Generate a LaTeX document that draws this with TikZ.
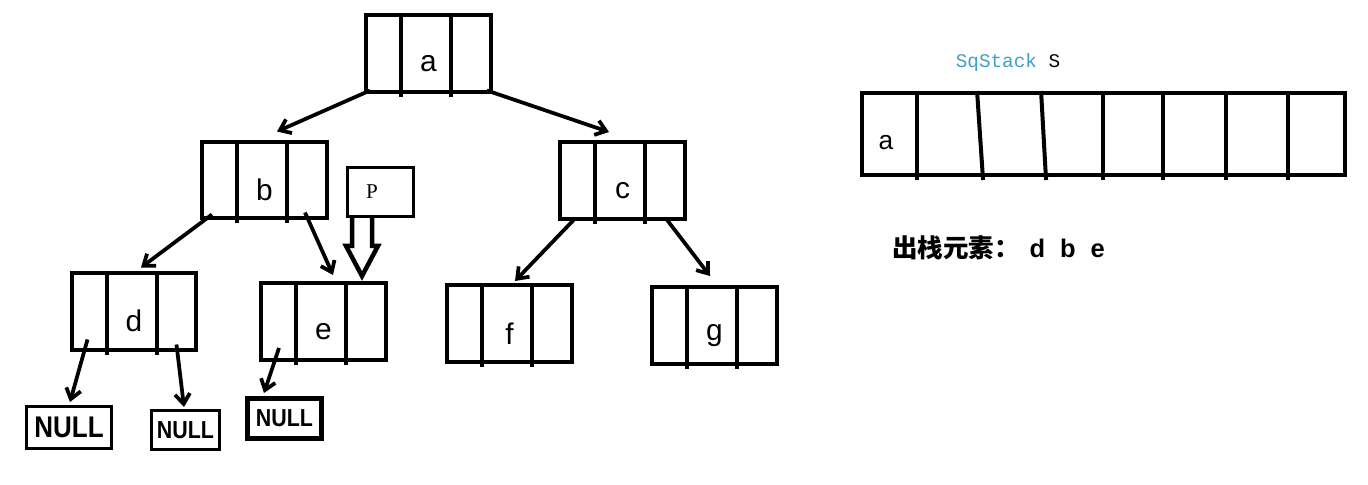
\documentclass[tikz,border=0pt]{standalone}
\usepackage{fontspec}
\setmainfont{Liberation Sans}
\setmonofont{Liberation Mono}
\newfontfamily\cjkfont{Noto Sans CJK SC}
\newfontfamily\pfont{Liberation Serif}
\usepackage{graphicx}
\usetikzlibrary{arrows.meta,calc}
\definecolor{stackblue}{RGB}{64,158,200}
\tikzset{
  treebox/.style={draw, line width=0.08cm, minimum width=2.5cm, minimum height=1.54cm, inner sep=0pt,
    label={[font=\fontsize{17}{19}\selectfont, yshift=-0.2cm]center:#1}},
  nullbox/.style={draw, line width=0.06cm, inner sep=0pt, font=\bfseries},
  arr/.style={line width=0.075cm, -{Straight Barb[length=0.2cm,width=0.3cm]}},
}

\begin{document}
\begin{tikzpicture}[x=0.02cm, y=-0.02cm]
  \useasboundingbox (0,0) rectangle (1368,484);

  \node[treebox=a] (a) at (428.5,53.5) {};
  \node[treebox=b] (b) at (264.5,180) {};
  \node[treebox=c] (c) at (622.5,180.5) {};
  \node[treebox=d] (d) at (134,311) {};
  \node[treebox=e] (e) at (323.5,321.5) {};
  \node[treebox=f] (f) at (509.5,323.5) {};
  \node[treebox=g] (g) at (714.5,325.5) {};
  \foreach \n in {a,b,c,d,e,f,g} {
    \draw[line width=0.08cm] ($(\n.south west)+(37,3)$) -- ($(\n.north west)+(37,0)$);
    \draw[line width=0.08cm] ($(\n.south west)+(87,3)$) -- ($(\n.north west)+(87,0)$);
  }

  \node[draw, line width=0.065cm, minimum width=1.31cm, minimum height=0.97cm, inner sep=0pt,
    label={[font=\pfont\fontsize{12}{14}\selectfont, xshift=-0.17cm]center:P}] (P) at (380.5,192) {};

  \node[nullbox, minimum width=1.7cm, minimum height=0.84cm] (n1) at (69,427.5)
    {\scalebox{0.87}[1]{\fontsize{17}{18}\selectfont NULL}};
  \node[nullbox, minimum width=1.36cm, minimum height=0.78cm] (n2) at (185.5,430)
    {\scalebox{0.87}[1]{\fontsize{14}{16}\selectfont NULL}};
  \node[nullbox, line width=0.1cm, minimum width=1.48cm, minimum height=0.8cm] (n3) at (284.5,418.5)
    {\scalebox{0.87}[1]{\fontsize{14}{16}\selectfont NULL}};

  \draw[arr] ($(a.south west)+(6,-3.5)$) -- ($(b.north)+(12.5,-8)$);
  \draw[arr] ($(a.south east)+(-6,-3.5)$) -- ($(c.north)+(-13.5,-8)$);
  \draw[arr] ($(b.south west)+(12,-6)$) -- ($(d.north)+(7,-3)$);
  \draw[arr] ($(b.south east)+(-24,-8)$) -- ($(e.north)+(9.5,-6)$);
  \draw[arr] ($(c.south west)+(17,-2.5)$) -- ($(f.north)+(5.5,-2)$);
  \draw[arr] ($(c.south east)+(-21,-2.5)$) -- ($(g.north)+(-4.5,-9)$);
  \draw[arr] ($(d.south west)+(18,-12)$) -- ($(n1.north)+(1,-3)$);
  \draw[arr] ($(d.south east)+(-22,-7)$) -- ($(n2.north)+(-1.5,-2)$);
  \draw[arr] ($(e.south west)+(20,-14)$) -- ($(n3.north)+(-20.5,-3)$);

  \draw[line width=0.09cm, line join=miter] ($(P.south)+(-28.5,0)$) -- ($(P.south)+(-28.5,28)$)
    -- ($(P.south)+(-34.5,28)$) -- ($(e.north)+(38.5,-5)$) -- ($(P.south)+(-2.5,28)$)
    -- ($(P.south)+(-8.5,28)$) -- ($(P.south)+(-8.5,0)$);

  \node (title) at (1008,62) {\fontsize{11}{13}\selectfont\ttfamily\textcolor{stackblue}{SqStack} S};
  \node[draw, line width=0.08cm, minimum width=9.66cm, minimum height=1.64cm] (S) at (1103.5,134) {};
  \foreach \t/\b in {57/57,117/123,181/186,243/243,303/303,366/366,428/428}
    \draw[line width=0.08cm] ($(S.north west)+(\t,0)$) -- ($(S.south west)+(\b,3)$);
  \node[font=\fontsize{15}{17}\selectfont] (s1) at (886,143) {a};

  \node[anchor=west, font=\fontsize{14.5}{17}\selectfont\bfseries] (out) at (886,248)
    {{\cjkfont 出栈元素：}\hspace{0.2cm}d\hspace{0.3cm}b\hspace{0.3cm}e};
\end{tikzpicture}
\end{document}
